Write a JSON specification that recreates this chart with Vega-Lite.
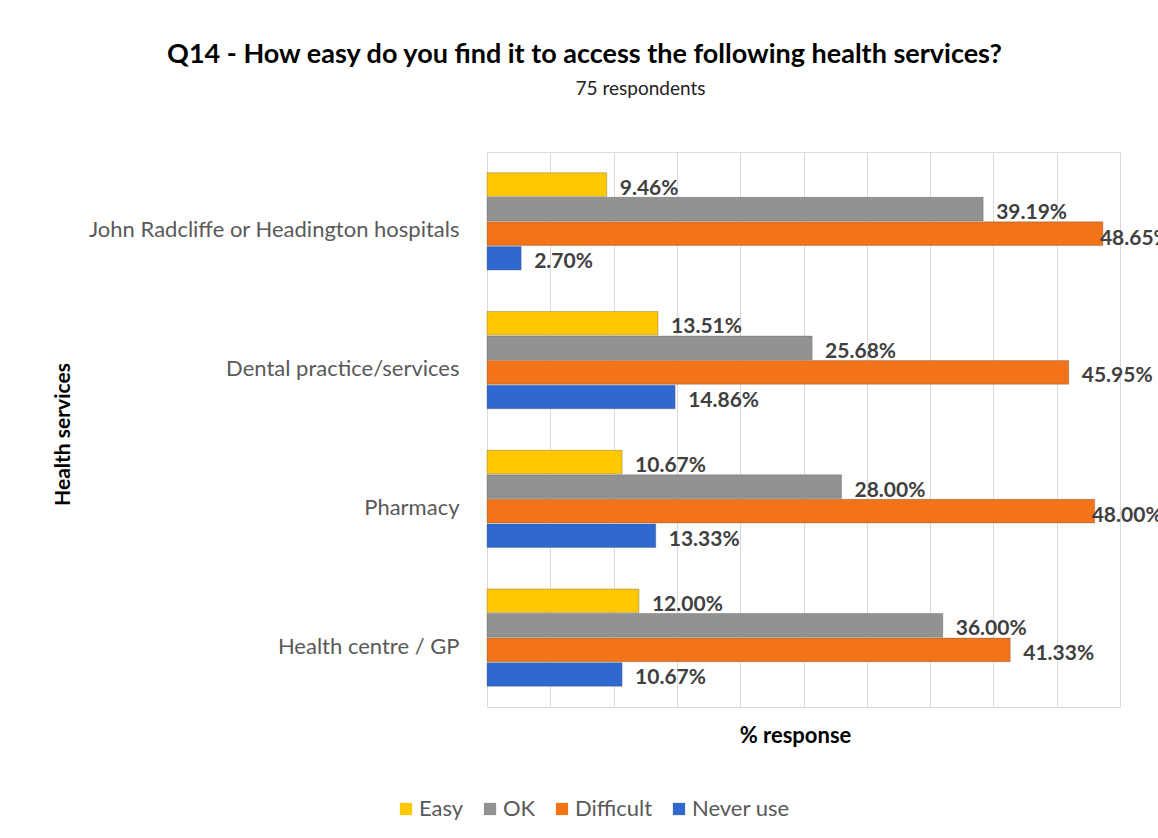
{
  "$schema": "https://vega.github.io/schema/vega-lite/v6.json",
  "width": 633,
  "height": 555,
  "autosize": {"type": "none"},
  "padding": {"left": 487, "top": 152, "right": 38, "bottom": 131},
  "background": "white",
  "title": {
    "text": "Q14 - How easy do you find it to access the following health services?",
    "subtitle": "\u2800\u2800\u2800\u2800\u2800\u2800\u2800\u280075 respondents",
    "anchor": "middle",
    "dx": -219,
    "offset": 52,
    "font": "Lato",
    "fontSize": 27,
    "fontWeight": "bold",
    "color": "#000000",
    "subtitleFont": "Lato",
    "subtitleFontSize": 19,
    "subtitleColor": "#222222",
    "subtitlePadding": 11
  },
  "data": {
    "values": [
      {"service": "John Radcliffe or Headington hospitals", "response": "Easy", "value": 0.0946},
      {"service": "John Radcliffe or Headington hospitals", "response": "OK", "value": 0.3919},
      {"service": "John Radcliffe or Headington hospitals", "response": "Difficult", "value": 0.4865},
      {"service": "John Radcliffe or Headington hospitals", "response": "Never use", "value": 0.0270},
      {"service": "Dental practice/services", "response": "Easy", "value": 0.1351},
      {"service": "Dental practice/services", "response": "OK", "value": 0.2568},
      {"service": "Dental practice/services", "response": "Difficult", "value": 0.4595},
      {"service": "Dental practice/services", "response": "Never use", "value": 0.1486},
      {"service": "Pharmacy", "response": "Easy", "value": 0.1067},
      {"service": "Pharmacy", "response": "OK", "value": 0.2800},
      {"service": "Pharmacy", "response": "Difficult", "value": 0.4800},
      {"service": "Pharmacy", "response": "Never use", "value": 0.1333},
      {"service": "Health centre / GP", "response": "Easy", "value": 0.1200},
      {"service": "Health centre / GP", "response": "OK", "value": 0.3600},
      {"service": "Health centre / GP", "response": "Difficult", "value": 0.4133},
      {"service": "Health centre / GP", "response": "Never use", "value": 0.1067}
    ]
  },
  "encoding": {
    "y": {
      "field": "service",
      "type": "nominal",
      "sort": ["John Radcliffe or Headington hospitals", "Dental practice/services", "Pharmacy", "Health centre / GP"],
      "scale": {"paddingInner": 0.3, "paddingOuter": 0.15},
      "axis": {
        "title": "Health services",
        "titleFont": "Lato",
        "titleFontSize": 21,
        "titleFontWeight": "bold",
        "titleColor": "#000000",
        "titleX": -424,
        "titleY": 282,
        "titleAngle": -90,
        "titleAlign": "center",
        "titleBaseline": "middle",
        "labelFont": "Lato",
        "labelFontSize": 22,
        "labelColor": "#595959",
        "labelPadding": 28,
        "labelLimit": 500,
        "labelOffset": 9,
        "ticks": false,
        "domain": false
      }
    },
    "yOffset": {
      "field": "response",
      "type": "nominal",
      "sort": ["Easy", "OK", "Difficult", "Never use"],
      "scale": {"paddingInner": 0.04}
    },
    "x": {
      "field": "value",
      "type": "quantitative",
      "scale": {"domain": [0, 0.5], "nice": false},
      "axis": {
        "title": "% response",
        "titleFont": "Lato",
        "titleFontSize": 22,
        "titleFontWeight": "bold",
        "titleColor": "#000000",
        "titlePadding": 18,
        "titleX": 308,
        "labels": false,
        "ticks": false,
        "domain": false,
        "grid": true,
        "gridColor": "#d9d9d9",
        "values": [0, 0.05, 0.1, 0.15, 0.2, 0.25, 0.3, 0.35, 0.4, 0.45, 0.5]
      }
    },
    "color": {
      "field": "response",
      "type": "nominal",
      "sort": ["Easy", "OK", "Difficult", "Never use"],
      "scale": {
        "domain": ["Easy", "OK", "Difficult", "Never use"],
        "range": ["#FFC800", "#929292", "#F37318", "#2F69CF"]
      },
      "legend": {
        "title": null,
        "orient": "none",
        "legendX": -92,
        "legendY": 646,
        "direction": "horizontal",
        "symbolType": "square",
        "symbolSize": 150,
        "symbolStrokeWidth": 0,
        "labelFont": "Lato",
        "labelFontSize": 22,
        "labelColor": "#595959",
        "columnPadding": 15,
        "labelOffset": 2
      }
    }
  },
  "layer": [
    {"mark": {"type": "bar", "stroke": "#555555", "strokeOpacity": 0.35, "strokeWidth": 1}},
    {
      "transform": [{"filter": "datum.value < 0.47"}],
      "mark": {"type": "text", "align": "left", "baseline": "middle", "dx": 13, "dy": 4, "font": "Lato", "fontSize": 21, "fontWeight": "bold", "color": "#404040"},
      "encoding": {
        "text": {"field": "value", "type": "quantitative", "format": ".2%"},
        "color": {"value": "#404040"}
      }
    },
    {
      "transform": [{"filter": "datum.value >= 0.47"}],
      "mark": {"type": "text", "align": "left", "baseline": "middle", "dx": -3, "dy": 5, "font": "Lato", "fontSize": 21, "fontWeight": "bold", "color": "#404040"},
      "encoding": {
        "text": {"field": "value", "type": "quantitative", "format": ".2%"},
        "color": {"value": "#404040"}
      }
    }
  ]
}
